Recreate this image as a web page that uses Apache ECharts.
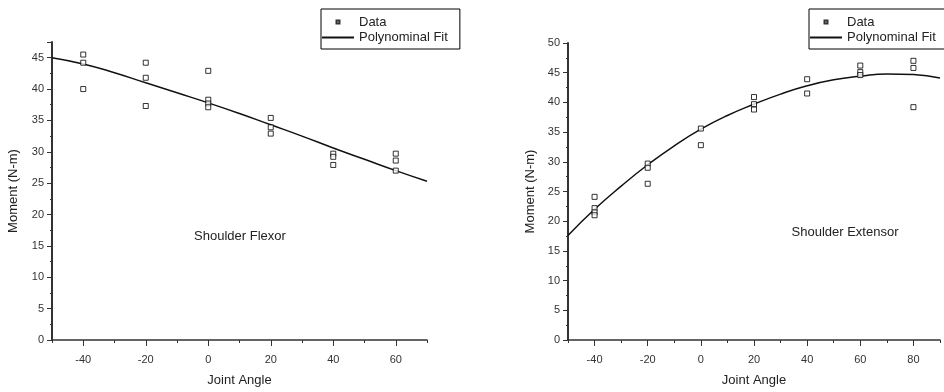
<!DOCTYPE html>
<html>
<head>
<meta charset="utf-8">
<script src="https://cdn.jsdelivr.net/npm/echarts@6/dist/echarts.min.js"></script>
<style>
html,body{margin:0;padding:0;background:#fff;}
#c{width:944px;height:392px;}
</style>
</head>
<body>
<div id="c"></div>
<script>
// ---- data ----
const flexorAngles = [-40, -20, 0, 20, 40, 60];
const flexorMoments = [
  [45.5, 44.2, 40.0],
  [44.2, 41.8, 37.3],
  [42.9, 38.3, 37.7, 37.1],
  [35.4, 33.9, 32.9],
  [29.7, 29.2, 27.9],
  [29.7, 28.6, 27.0]
];
const flexorFitAngles = [-50, -40, -30, -20, -10, 0, 10, 20, 30, 40, 50, 60, 70];
const flexorFitMoments = [45.0, 44.0, 42.6, 41.0, 39.4, 37.8, 36.1, 34.3, 32.5, 30.6, 28.8, 27.0, 25.3];

const extensorAngles = [-40, -20, 0, 20, 40, 60, 80];
const extensorMoments = [
  [24.1, 22.2, 21.5, 21.0],
  [29.7, 29.0, 26.3],
  [35.6, 32.8],
  [40.9, 39.7, 38.8],
  [43.9, 41.5],
  [46.2, 45.1, 44.6],
  [47.0, 45.8, 39.2]
];
const extensorFitAngles = [-50, -40, -30, -20, -10, 0, 10, 20, 30, 40, 50, 60, 70, 80, 90];
const extensorFitMoments = [17.6, 22.0, 25.9, 29.5, 32.7, 35.5, 37.8, 39.7, 41.4, 42.8, 43.8, 44.4, 44.8, 44.7, 44.1];

const flexorXTicks = [-40, -20, 0, 20, 40, 60];
const extensorXTicks = [-40, -20, 0, 20, 40, 60, 80];

const legendNames = ['Data', 'Polynominal Fit'];
const panelLabels = ['Shoulder Flexor', 'Shoulder Extensor'];
const xName = 'Joint Angle';
const yName = 'Moment (N-m)';

// ---- helpers ----
function toPoints(angles, groups) {
  const out = [];
  angles.forEach((a, i) => groups[i].forEach(v => out.push([a, v])));
  return out;
}
function toPairs(xs, ys) { return xs.map((x, i) => [x, ys[i]]); }

const FONT = 'Liberation Sans, Arial, sans-serif';
const AX = '#333';

function xAxisDef(idx, min, max, majors) {
  return {
    gridIndex: idx, type: 'value', min: min, max: max, interval: 10,
    position: 'bottom', offset: 0,
    name: xName, nameLocation: 'middle', nameGap: 34,
    nameTextStyle: { fontFamily: FONT, fontSize: 13, color: '#222' },
    axisLine: { onZero: false, lineStyle: { color: AX, width: 1.5 } },
    axisTick: { length: 6, customValues: majors, lineStyle: { color: AX, width: 1 } },
    axisLabel: {
      margin: 14, fontFamily: FONT, fontSize: 11, color: '#333',
      customValues: majors,
      formatter: v => (v % 20 === 0 ? String(v) : '')
    },
    splitLine: { show: false }
  };
}
// secondary axis that only draws the short ticks every 10 units
function xMinorAxisDef(idx, min, max) {
  return {
    gridIndex: idx, type: 'value', min: min, max: max, interval: 10,
    position: 'bottom', offset: 0,
    axisLine: { show: false, onZero: false },
    axisTick: { show: true, length: 3, lineStyle: { color: AX, width: 1 } },
    axisLabel: { show: false },
    splitLine: { show: false }
  };
}
function yAxisDef(idx, max, gap) {
  return {
    gridIndex: idx, type: 'value', min: 0, max: max, interval: 5,
    name: yName, nameLocation: 'middle', nameGap: gap,
    nameTextStyle: { fontFamily: FONT, fontSize: 13, color: '#222' },
    axisLine: { show: true, onZero: false, lineStyle: { color: AX, width: 2 } },
    axisTick: { show: true, length: 5, lineStyle: { color: AX, width: 1 } },
    minorTick: { show: true, splitNumber: 2, length: 2, lineStyle: { color: AX, width: 1 } },
    axisLabel: {
      margin: 8, fontFamily: FONT, fontSize: 11, color: '#333',
      formatter: v => (v % 5 === 0 ? String(v) : '')
    },
    splitLine: { show: false },
    minorSplitLine: { show: false }
  };
}
function scatterDef(idx, data) {
  return {
    name: legendNames[0], type: 'scatter', xAxisIndex: idx, yAxisIndex: idx,
    data: data, symbol: 'rect', symbolSize: 5,
    itemStyle: { color: '#fff', borderColor: '#000', borderWidth: 1 },
    z: 3
  };
}
function fitDef(idx, data) {
  return {
    name: legendNames[1], type: 'line', xAxisIndex: idx, yAxisIndex: idx,
    data: data, smooth: true, symbol: 'none',
    lineStyle: { color: '#111', width: 1.5 },
    itemStyle: { color: '#111' },
    z: 2
  };
}
function legendDef(left) {
  return {
    orient: 'vertical', left: left, top: 9,
    padding: [6, 12, 5, 0],
    itemWidth: 32, itemHeight: 12, itemGap: 2,
    borderColor: '#000', borderWidth: 1,
    selectedMode: false,
    textStyle: { fontFamily: FONT, fontSize: 13, color: '#222' },
    data: [
      { name: legendNames[0], icon: 'path://M0,0M12,12M4.5,4.5h3v3h-3z' },
      { name: legendNames[1], itemStyle: { color: 'rgba(0,0,0,0)', borderWidth: 0, opacity: 0 } }
    ]
  };
}

const chart = echarts.init(document.getElementById('c'), null, { renderer: 'canvas' });
chart.setOption({
  animation: false,
  backgroundColor: '#fff',
  grid: [
    { left: 52, top: 42, right: 517, bottom: 48 },
    { left: 568, top: 43, right: 4, bottom: 44 }
  ],
  legend: [legendDef(321), legendDef(809)],
  xAxis: [
    xAxisDef(0, -50, 70, flexorXTicks),
    xAxisDef(1, -50, 90, extensorXTicks),
    xMinorAxisDef(0, -50, 70),
    xMinorAxisDef(1, -50, 90)
  ],
  yAxis: [yAxisDef(0, 47.5, 32), yAxisDef(1, 50, 31)],
  series: [
    scatterDef(0, toPoints(flexorAngles, flexorMoments)),
    fitDef(0, toPairs(flexorFitAngles, flexorFitMoments)),
    scatterDef(1, toPoints(extensorAngles, extensorMoments)),
    fitDef(1, toPairs(extensorFitAngles, extensorFitMoments))
  ],
  graphic: [
    { type: 'text', x: 240, y: 236, style: { text: panelLabels[0], font: '13px ' + FONT, fill: '#222', textAlign: 'center', textVerticalAlign: 'middle' } },
    { type: 'text', x: 845, y: 232, style: { text: panelLabels[1], font: '13px ' + FONT, fill: '#222', textAlign: 'center', textVerticalAlign: 'middle' } }
  ]
});
</script>
</body>
</html>
